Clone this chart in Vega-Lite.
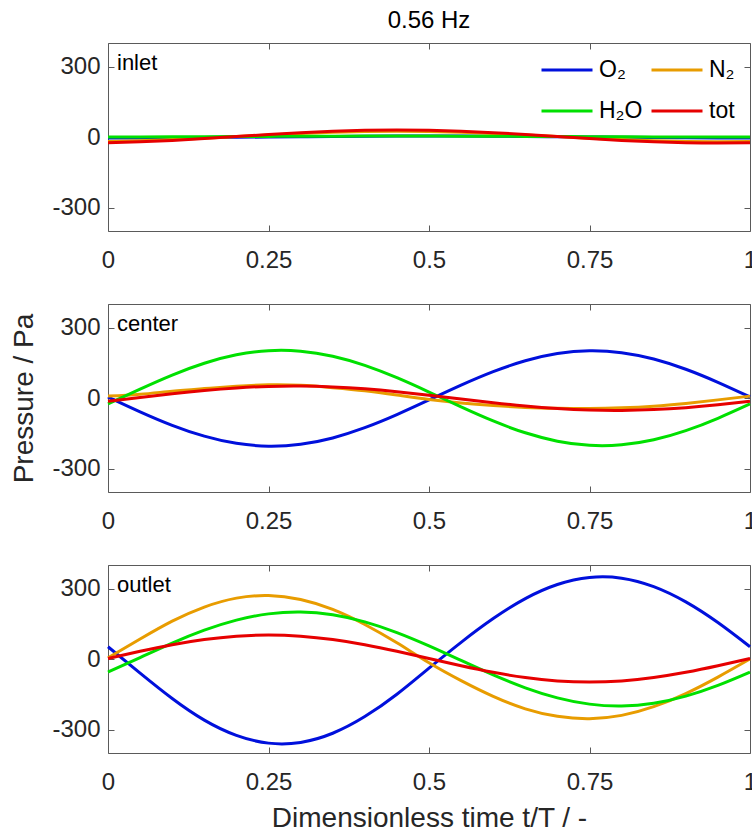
{
"$schema": "https://vega.github.io/schema/vega-lite/v6.json",
"padding": {"left": 10, "top": 8, "right": 0, "bottom": 0},
"bounds": "flush",
"spacing": 73,
"config": {
  "font": "Liberation Sans",
  "view": {"stroke": "#5a5a5a", "strokeWidth": 1},
  "axis": {"domain": false, "grid": false, "ticks": true, "tickColor": "#5a5a5a", "tickSize": -6, "labelFlush": false, "labelColor": "#262626", "labelFontSize": 24, "titleFontSize": 28, "titleFontWeight": "normal", "titleColor": "#262626", "labelFont": "Liberation Sans", "titleFont": "Liberation Sans"}
},
"datasets": {"d": [
{"p":"inlet","s":"O₂","t":0,"v":-4},{"p":"inlet","s":"O₂","t":0.05,"v":-3.8},{"p":"inlet","s":"O₂","t":0.1,"v":-3.2},{"p":"inlet","s":"O₂","t":0.15,"v":-2.4},{"p":"inlet","s":"O₂","t":0.2,"v":-1.2},{"p":"inlet","s":"O₂","t":0.25,"v":0},{"p":"inlet","s":"O₂","t":0.3,"v":1.2},{"p":"inlet","s":"O₂","t":0.35,"v":2.4},{"p":"inlet","s":"O₂","t":0.4,"v":3.2},{"p":"inlet","s":"O₂","t":0.45,"v":3.8},{"p":"inlet","s":"O₂","t":0.5,"v":4},{"p":"inlet","s":"O₂","t":0.55,"v":3.8},{"p":"inlet","s":"O₂","t":0.6,"v":3.2},{"p":"inlet","s":"O₂","t":0.65,"v":2.4},{"p":"inlet","s":"O₂","t":0.7,"v":1.2},{"p":"inlet","s":"O₂","t":0.75,"v":0},{"p":"inlet","s":"O₂","t":0.8,"v":-1.2},{"p":"inlet","s":"O₂","t":0.85,"v":-2.4},{"p":"inlet","s":"O₂","t":0.9,"v":-3.2},{"p":"inlet","s":"O₂","t":0.95,"v":-3.8},{"p":"inlet","s":"O₂","t":1,"v":-4},
{"p":"inlet","s":"N₂","t":0,"v":-18.9},{"p":"inlet","s":"N₂","t":0.05,"v":-15.8},{"p":"inlet","s":"N₂","t":0.1,"v":-10.9},{"p":"inlet","s":"N₂","t":0.15,"v":-4.8},{"p":"inlet","s":"N₂","t":0.2,"v":2},{"p":"inlet","s":"N₂","t":0.25,"v":8.8},{"p":"inlet","s":"N₂","t":0.3,"v":14.9},{"p":"inlet","s":"N₂","t":0.35,"v":19.8},{"p":"inlet","s":"N₂","t":0.4,"v":22.9},{"p":"inlet","s":"N₂","t":0.45,"v":24},{"p":"inlet","s":"N₂","t":0.5,"v":22.9},{"p":"inlet","s":"N₂","t":0.55,"v":19.8},{"p":"inlet","s":"N₂","t":0.6,"v":14.9},{"p":"inlet","s":"N₂","t":0.65,"v":8.8},{"p":"inlet","s":"N₂","t":0.7,"v":2},{"p":"inlet","s":"N₂","t":0.75,"v":-4.8},{"p":"inlet","s":"N₂","t":0.8,"v":-10.9},{"p":"inlet","s":"N₂","t":0.85,"v":-15.8},{"p":"inlet","s":"N₂","t":0.9,"v":-18.9},{"p":"inlet","s":"N₂","t":0.95,"v":-20},{"p":"inlet","s":"N₂","t":1,"v":-18.9},
{"p":"inlet","s":"H₂O","t":0,"v":0.1},{"p":"inlet","s":"H₂O","t":0.05,"v":0.4},{"p":"inlet","s":"H₂O","t":0.1,"v":0.8},{"p":"inlet","s":"H₂O","t":0.15,"v":1.4},{"p":"inlet","s":"H₂O","t":0.2,"v":2},{"p":"inlet","s":"H₂O","t":0.25,"v":2.6},{"p":"inlet","s":"H₂O","t":0.3,"v":3.2},{"p":"inlet","s":"H₂O","t":0.35,"v":3.6},{"p":"inlet","s":"H₂O","t":0.4,"v":3.9},{"p":"inlet","s":"H₂O","t":0.45,"v":4},{"p":"inlet","s":"H₂O","t":0.5,"v":3.9},{"p":"inlet","s":"H₂O","t":0.55,"v":3.6},{"p":"inlet","s":"H₂O","t":0.6,"v":3.2},{"p":"inlet","s":"H₂O","t":0.65,"v":2.6},{"p":"inlet","s":"H₂O","t":0.7,"v":2},{"p":"inlet","s":"H₂O","t":0.75,"v":1.4},{"p":"inlet","s":"H₂O","t":0.8,"v":0.8},{"p":"inlet","s":"H₂O","t":0.85,"v":0.4},{"p":"inlet","s":"H₂O","t":0.9,"v":0.1},{"p":"inlet","s":"H₂O","t":0.95,"v":0},{"p":"inlet","s":"H₂O","t":1,"v":0.1},
{"p":"inlet","s":"tot","t":0,"v":-24.6},{"p":"inlet","s":"tot","t":0.05,"v":-20.7},{"p":"inlet","s":"tot","t":0.1,"v":-14.5},{"p":"inlet","s":"tot","t":0.15,"v":-6.7},{"p":"inlet","s":"tot","t":0.2,"v":2},{"p":"inlet","s":"tot","t":0.25,"v":10.7},{"p":"inlet","s":"tot","t":0.3,"v":18.5},{"p":"inlet","s":"tot","t":0.35,"v":24.7},{"p":"inlet","s":"tot","t":0.4,"v":28.6},{"p":"inlet","s":"tot","t":0.45,"v":30},{"p":"inlet","s":"tot","t":0.5,"v":28.6},{"p":"inlet","s":"tot","t":0.55,"v":24.7},{"p":"inlet","s":"tot","t":0.6,"v":18.5},{"p":"inlet","s":"tot","t":0.65,"v":10.7},{"p":"inlet","s":"tot","t":0.7,"v":2},{"p":"inlet","s":"tot","t":0.75,"v":-6.7},{"p":"inlet","s":"tot","t":0.8,"v":-14.5},{"p":"inlet","s":"tot","t":0.85,"v":-20.7},{"p":"inlet","s":"tot","t":0.9,"v":-24.6},{"p":"inlet","s":"tot","t":0.95,"v":-26},{"p":"inlet","s":"tot","t":1,"v":-24.6},
{"p":"center","s":"O₂","t":0,"v":4.4},{"p":"center","s":"O₂","t":0.05,"v":-58.6},{"p":"center","s":"O₂","t":0.1,"v":-116.1},{"p":"center","s":"O₂","t":0.15,"v":-162.4},{"p":"center","s":"O₂","t":0.2,"v":-193},{"p":"center","s":"O₂","t":0.25,"v":-204.9},{"p":"center","s":"O₂","t":0.3,"v":-196.9},{"p":"center","s":"O₂","t":0.35,"v":-169.9},{"p":"center","s":"O₂","t":0.4,"v":-126.4},{"p":"center","s":"O₂","t":0.45,"v":-70.8},{"p":"center","s":"O₂","t":0.5,"v":-8.4},{"p":"center","s":"O₂","t":0.55,"v":54.6},{"p":"center","s":"O₂","t":0.6,"v":112.1},{"p":"center","s":"O₂","t":0.65,"v":158.4},{"p":"center","s":"O₂","t":0.7,"v":189},{"p":"center","s":"O₂","t":0.75,"v":200.9},{"p":"center","s":"O₂","t":0.8,"v":192.9},{"p":"center","s":"O₂","t":0.85,"v":165.9},{"p":"center","s":"O₂","t":0.9,"v":122.4},{"p":"center","s":"O₂","t":0.95,"v":66.8},{"p":"center","s":"O₂","t":1,"v":4.4},
{"p":"center","s":"N₂","t":0,"v":8},{"p":"center","s":"N₂","t":0.05,"v":16},{"p":"center","s":"N₂","t":0.1,"v":29},{"p":"center","s":"N₂","t":0.15,"v":40},{"p":"center","s":"N₂","t":0.2,"v":50},{"p":"center","s":"N₂","t":0.25,"v":56},{"p":"center","s":"N₂","t":0.3,"v":54},{"p":"center","s":"N₂","t":0.35,"v":44},{"p":"center","s":"N₂","t":0.4,"v":31},{"p":"center","s":"N₂","t":0.45,"v":13},{"p":"center","s":"N₂","t":0.5,"v":-6},{"p":"center","s":"N₂","t":0.55,"v":-21},{"p":"center","s":"N₂","t":0.6,"v":-32},{"p":"center","s":"N₂","t":0.65,"v":-40},{"p":"center","s":"N₂","t":0.7,"v":-44},{"p":"center","s":"N₂","t":0.75,"v":-45},{"p":"center","s":"N₂","t":0.8,"v":-42},{"p":"center","s":"N₂","t":0.85,"v":-35},{"p":"center","s":"N₂","t":0.9,"v":-23},{"p":"center","s":"N₂","t":0.95,"v":-8},{"p":"center","s":"N₂","t":1,"v":8},
{"p":"center","s":"H₂O","t":0,"v":-25.4},{"p":"center","s":"H₂O","t":0.05,"v":38},{"p":"center","s":"H₂O","t":0.1,"v":97.8},{"p":"center","s":"H₂O","t":0.15,"v":148},{"p":"center","s":"H₂O","t":0.2,"v":183.7},{"p":"center","s":"H₂O","t":0.25,"v":201.4},{"p":"center","s":"H₂O","t":0.3,"v":199.3},{"p":"center","s":"H₂O","t":0.35,"v":177.9},{"p":"center","s":"H₂O","t":0.4,"v":139},{"p":"center","s":"H₂O","t":0.45,"v":86.4},{"p":"center","s":"H₂O","t":0.5,"v":25.4},{"p":"center","s":"H₂O","t":0.55,"v":-38},{"p":"center","s":"H₂O","t":0.6,"v":-97.8},{"p":"center","s":"H₂O","t":0.65,"v":-148},{"p":"center","s":"H₂O","t":0.7,"v":-183.7},{"p":"center","s":"H₂O","t":0.75,"v":-201.4},{"p":"center","s":"H₂O","t":0.8,"v":-199.3},{"p":"center","s":"H₂O","t":0.85,"v":-177.9},{"p":"center","s":"H₂O","t":0.9,"v":-139},{"p":"center","s":"H₂O","t":0.95,"v":-86.4},{"p":"center","s":"H₂O","t":1,"v":-25.4},
{"p":"center","s":"tot","t":0,"v":-13.9},{"p":"center","s":"tot","t":0.05,"v":2.3},{"p":"center","s":"tot","t":0.1,"v":18.1},{"p":"center","s":"tot","t":0.15,"v":32.1},{"p":"center","s":"tot","t":0.2,"v":42.9},{"p":"center","s":"tot","t":0.25,"v":49.4},{"p":"center","s":"tot","t":0.3,"v":50.9},{"p":"center","s":"tot","t":0.35,"v":47.3},{"p":"center","s":"tot","t":0.4,"v":39.1},{"p":"center","s":"tot","t":0.45,"v":26.9},{"p":"center","s":"tot","t":0.5,"v":11.9},{"p":"center","s":"tot","t":0.55,"v":-4.3},{"p":"center","s":"tot","t":0.6,"v":-20.1},{"p":"center","s":"tot","t":0.65,"v":-34.1},{"p":"center","s":"tot","t":0.7,"v":-44.9},{"p":"center","s":"tot","t":0.75,"v":-51.4},{"p":"center","s":"tot","t":0.8,"v":-52.9},{"p":"center","s":"tot","t":0.85,"v":-49.3},{"p":"center","s":"tot","t":0.9,"v":-41.1},{"p":"center","s":"tot","t":0.95,"v":-28.9},{"p":"center","s":"tot","t":1,"v":-13.9},
{"p":"outlet","s":"O₂","t":0,"v":52},{"p":"outlet","s":"O₂","t":0.05,"v":-60},{"p":"outlet","s":"O₂","t":0.1,"v":-168},{"p":"outlet","s":"O₂","t":0.15,"v":-260},{"p":"outlet","s":"O₂","t":0.2,"v":-325},{"p":"outlet","s":"O₂","t":0.25,"v":-358},{"p":"outlet","s":"O₂","t":0.3,"v":-355},{"p":"outlet","s":"O₂","t":0.35,"v":-316},{"p":"outlet","s":"O₂","t":0.4,"v":-245},{"p":"outlet","s":"O₂","t":0.45,"v":-150},{"p":"outlet","s":"O₂","t":0.5,"v":-39},{"p":"outlet","s":"O₂","t":0.55,"v":71},{"p":"outlet","s":"O₂","t":0.6,"v":172},{"p":"outlet","s":"O₂","t":0.65,"v":257},{"p":"outlet","s":"O₂","t":0.7,"v":317},{"p":"outlet","s":"O₂","t":0.75,"v":347},{"p":"outlet","s":"O₂","t":0.8,"v":344},{"p":"outlet","s":"O₂","t":0.85,"v":308},{"p":"outlet","s":"O₂","t":0.9,"v":243},{"p":"outlet","s":"O₂","t":0.95,"v":155},{"p":"outlet","s":"O₂","t":1,"v":52},
{"p":"outlet","s":"N₂","t":0,"v":5},{"p":"outlet","s":"N₂","t":0.05,"v":85},{"p":"outlet","s":"N₂","t":0.1,"v":161},{"p":"outlet","s":"N₂","t":0.15,"v":221},{"p":"outlet","s":"N₂","t":0.2,"v":259},{"p":"outlet","s":"N₂","t":0.25,"v":270},{"p":"outlet","s":"N₂","t":0.3,"v":253},{"p":"outlet","s":"N₂","t":0.35,"v":211},{"p":"outlet","s":"N₂","t":0.4,"v":147},{"p":"outlet","s":"N₂","t":0.45,"v":69},{"p":"outlet","s":"N₂","t":0.5,"v":-16},{"p":"outlet","s":"N₂","t":0.55,"v":-92},{"p":"outlet","s":"N₂","t":0.6,"v":-159},{"p":"outlet","s":"N₂","t":0.65,"v":-212},{"p":"outlet","s":"N₂","t":0.7,"v":-244},{"p":"outlet","s":"N₂","t":0.75,"v":-254},{"p":"outlet","s":"N₂","t":0.8,"v":-240},{"p":"outlet","s":"N₂","t":0.85,"v":-203},{"p":"outlet","s":"N₂","t":0.9,"v":-147},{"p":"outlet","s":"N₂","t":0.95,"v":-77},{"p":"outlet","s":"N₂","t":1,"v":0},
{"p":"outlet","s":"H₂O","t":0,"v":-55.8},{"p":"outlet","s":"H₂O","t":0.05,"v":6.3},{"p":"outlet","s":"H₂O","t":0.1,"v":67.8},{"p":"outlet","s":"H₂O","t":0.15,"v":122.6},{"p":"outlet","s":"H₂O","t":0.2,"v":165.4},{"p":"outlet","s":"H₂O","t":0.25,"v":192},{"p":"outlet","s":"H₂O","t":0.3,"v":199.9},{"p":"outlet","s":"H₂O","t":0.35,"v":188.2},{"p":"outlet","s":"H₂O","t":0.4,"v":158},{"p":"outlet","s":"H₂O","t":0.45,"v":112.4},{"p":"outlet","s":"H₂O","t":0.5,"v":55.8},{"p":"outlet","s":"H₂O","t":0.55,"v":-6.3},{"p":"outlet","s":"H₂O","t":0.6,"v":-67.8},{"p":"outlet","s":"H₂O","t":0.65,"v":-122.6},{"p":"outlet","s":"H₂O","t":0.7,"v":-165.4},{"p":"outlet","s":"H₂O","t":0.75,"v":-192},{"p":"outlet","s":"H₂O","t":0.8,"v":-199.9},{"p":"outlet","s":"H₂O","t":0.85,"v":-188.2},{"p":"outlet","s":"H₂O","t":0.9,"v":-158},{"p":"outlet","s":"H₂O","t":0.95,"v":-112.4},{"p":"outlet","s":"H₂O","t":1,"v":-55.8},
{"p":"outlet","s":"tot","t":0,"v":2},{"p":"outlet","s":"tot","t":0.05,"v":32.9},{"p":"outlet","s":"tot","t":0.1,"v":60.8},{"p":"outlet","s":"tot","t":0.15,"v":82.9},{"p":"outlet","s":"tot","t":0.2,"v":97.1},{"p":"outlet","s":"tot","t":0.25,"v":102},{"p":"outlet","s":"tot","t":0.3,"v":97.1},{"p":"outlet","s":"tot","t":0.35,"v":82.9},{"p":"outlet","s":"tot","t":0.4,"v":60.8},{"p":"outlet","s":"tot","t":0.45,"v":32.9},{"p":"outlet","s":"tot","t":0.5,"v":2},{"p":"outlet","s":"tot","t":0.55,"v":-28.9},{"p":"outlet","s":"tot","t":0.6,"v":-56.8},{"p":"outlet","s":"tot","t":0.65,"v":-78.9},{"p":"outlet","s":"tot","t":0.7,"v":-93.1},{"p":"outlet","s":"tot","t":0.75,"v":-98},{"p":"outlet","s":"tot","t":0.8,"v":-93.1},{"p":"outlet","s":"tot","t":0.85,"v":-78.9},{"p":"outlet","s":"tot","t":0.9,"v":-56.8},{"p":"outlet","s":"tot","t":0.95,"v":-28.9},{"p":"outlet","s":"tot","t":1,"v":2}
]},
"resolve": {"scale": {"color": "independent"}, "legend": {"color": "independent"}},
"vconcat": [
{
  "width": 642, "height": 188,
  "title": {"text": "0.56 Hz", "frame": "group", "anchor": "middle", "offset": 10, "fontSize": 24, "fontWeight": "normal", "color": "#000000", "font": "Liberation Sans"},
  "layer": [
    {"data": {"name": "d"}, "transform": [{"filter": "datum.p == 'inlet'"}],
     "mark": {"type": "line", "strokeWidth": 3, "interpolate": "natural"},
     "encoding": {
       "x": {"field": "t", "type": "quantitative", "scale": {"domain": [0, 1], "nice": false}, "axis": {"values": [0, 0.25, 0.5, 0.75, 1], "labelExpr": "'' + datum.value", "title": null, "labelPadding": 23}},
       "y": {"field": "v", "type": "quantitative", "scale": {"domain": [-400, 400], "nice": false}, "axis": {"values": [-300, 0, 300], "labelExpr": "'' + datum.value", "title": null, "labelPadding": 14}},
       "color": {"field": "s", "type": "nominal", "sort": ["O₂", "H₂O", "N₂", "tot"], "scale": {"domain": ["O₂", "H₂O", "N₂", "tot"], "range": ["#0010dc", "#00e000", "#e89c00", "#e60000"]},
         "legend": {"orient": "none", "legendX": 432, "legendY": 0, "columns": 2, "symbolType": "stroke", "symbolSize": 2601, "symbolStrokeWidth": 3, "labelFontSize": 23, "labelColor": "#000000", "labelOffset": 5, "rowPadding": 2, "columnPadding": 2, "title": null, "padding": 0, "labelLimit": 200, "labelFont": "Liberation Sans"}}
     }},
    {"data": {"values": [{}]},
     "mark": {"type": "text", "text": "inlet", "align": "left", "baseline": "alphabetic", "dx": 9, "dy": 27, "fontSize": 22, "color": "#000000"},
     "encoding": {"x": {"datum": 0, "type": "quantitative", "axis": null}, "y": {"datum": 400, "type": "quantitative", "axis": null}}},
    {"data": {"name": "d"}, "transform": [{"filter": "datum.p == 'inlet'"}],
     "mark": {"type": "point", "opacity": 0},
     "encoding": {"x": {"field": "t", "type": "quantitative", "axis": {"orient": "top", "labels": false, "title": null, "values": [0, 0.25, 0.5, 0.75, 1]}}, "y": {"field": "v", "type": "quantitative", "axis": {"orient": "right", "labels": false, "title": null, "values": [-300, 0, 300]}}}}
  ],
  "resolve": {"axis": {"x": "independent", "y": "independent"}}
},
{
  "width": 642, "height": 188,
  "layer": [
    {"data": {"name": "d"}, "transform": [{"filter": "datum.p == 'center'"}],
     "mark": {"type": "line", "strokeWidth": 3, "interpolate": "natural"},
     "encoding": {
       "x": {"field": "t", "type": "quantitative", "scale": {"domain": [0, 1], "nice": false}, "axis": {"values": [0, 0.25, 0.5, 0.75, 1], "labelExpr": "'' + datum.value", "title": null, "labelPadding": 23}},
       "y": {"field": "v", "type": "quantitative", "scale": {"domain": [-400, 400], "nice": false}, "axis": {"values": [-300, 0, 300], "labelExpr": "'' + datum.value", "title": "Pressure / Pa", "titlePadding": 13, "labelPadding": 14}},
       "color": {"field": "s", "type": "nominal", "sort": ["O₂", "H₂O", "N₂", "tot"], "scale": {"domain": ["O₂", "H₂O", "N₂", "tot"], "range": ["#0010dc", "#00e000", "#e89c00", "#e60000"]}, "legend": null}
     }},
    {"data": {"values": [{}]},
     "mark": {"type": "text", "text": "center", "align": "left", "baseline": "alphabetic", "dx": 9, "dy": 27, "fontSize": 22, "color": "#000000"},
     "encoding": {"x": {"datum": 0, "type": "quantitative", "axis": null}, "y": {"datum": 400, "type": "quantitative", "axis": null}}},
    {"data": {"name": "d"}, "transform": [{"filter": "datum.p == 'center'"}],
     "mark": {"type": "point", "opacity": 0},
     "encoding": {"x": {"field": "t", "type": "quantitative", "axis": {"orient": "top", "labels": false, "title": null, "values": [0, 0.25, 0.5, 0.75, 1]}}, "y": {"field": "v", "type": "quantitative", "axis": {"orient": "right", "labels": false, "title": null, "values": [-300, 0, 300]}}}}
  ],
  "resolve": {"axis": {"x": "independent", "y": "independent"}}
},
{
  "width": 642, "height": 188,
  "layer": [
    {"data": {"name": "d"}, "transform": [{"filter": "datum.p == 'outlet'"}],
     "mark": {"type": "line", "strokeWidth": 3, "interpolate": "natural"},
     "encoding": {
       "x": {"field": "t", "type": "quantitative", "scale": {"domain": [0, 1], "nice": false}, "axis": {"values": [0, 0.25, 0.5, 0.75, 1], "labelExpr": "'' + datum.value", "title": "Dimensionless time t/T / -", "titlePadding": 10, "labelPadding": 23}},
       "y": {"field": "v", "type": "quantitative", "scale": {"domain": [-400, 400], "nice": false}, "axis": {"values": [-300, 0, 300], "labelExpr": "'' + datum.value", "title": null, "labelPadding": 14}},
       "color": {"field": "s", "type": "nominal", "sort": ["O₂", "H₂O", "N₂", "tot"], "scale": {"domain": ["O₂", "H₂O", "N₂", "tot"], "range": ["#0010dc", "#00e000", "#e89c00", "#e60000"]}, "legend": null}
     }},
    {"data": {"values": [{}]},
     "mark": {"type": "text", "text": "outlet", "align": "left", "baseline": "alphabetic", "dx": 9, "dy": 27, "fontSize": 22, "color": "#000000"},
     "encoding": {"x": {"datum": 0, "type": "quantitative", "axis": null}, "y": {"datum": 400, "type": "quantitative", "axis": null}}},
    {"data": {"name": "d"}, "transform": [{"filter": "datum.p == 'outlet'"}],
     "mark": {"type": "point", "opacity": 0},
     "encoding": {"x": {"field": "t", "type": "quantitative", "axis": {"orient": "top", "labels": false, "title": null, "values": [0, 0.25, 0.5, 0.75, 1]}}, "y": {"field": "v", "type": "quantitative", "axis": {"orient": "right", "labels": false, "title": null, "values": [-300, 0, 300]}}}}
  ],
  "resolve": {"axis": {"x": "independent", "y": "independent"}}
}
]
}
